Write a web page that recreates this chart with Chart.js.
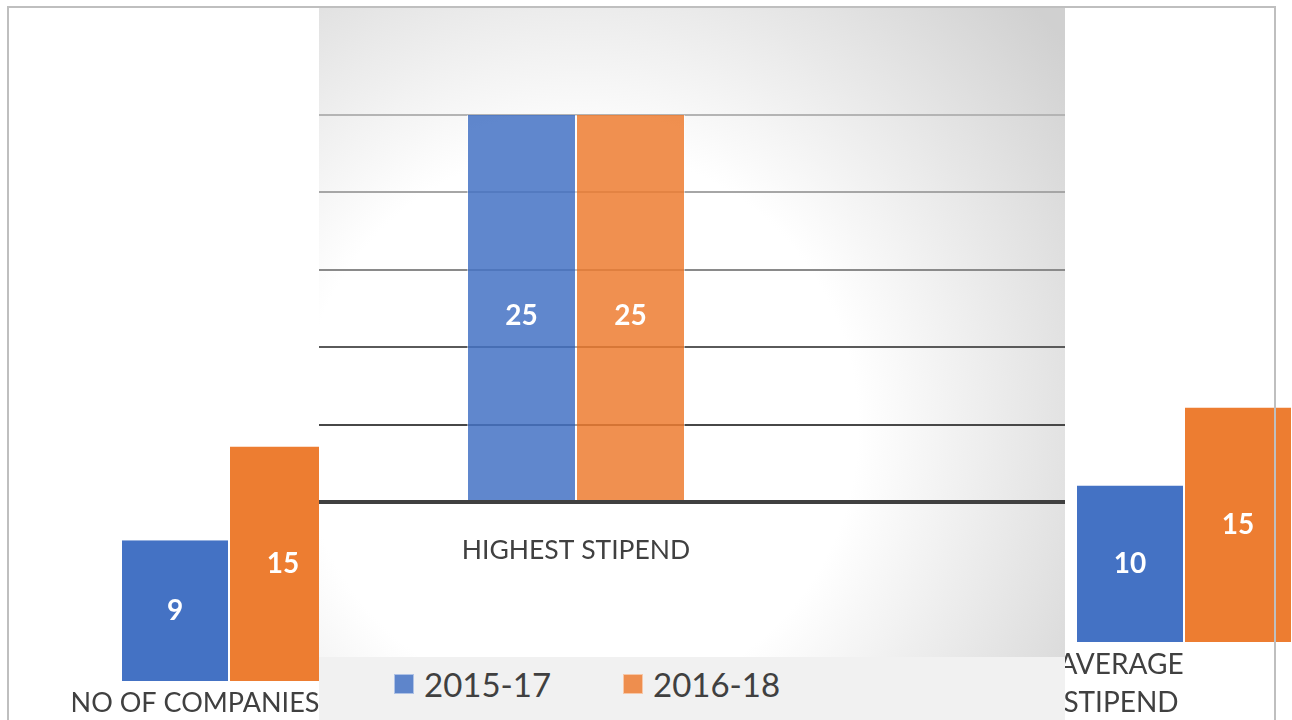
<!DOCTYPE html>
<html>
<head>
<meta charset="utf-8">
<script src="https://cdn.jsdelivr.net/npm/chart.js@4.4.1/dist/chart.umd.min.js"></script>
<style>
  html, body { margin: 0; padding: 0; width: 1292px; height: 720px; overflow: hidden; background: #fff; font-family: Lato, sans-serif; }
  .box { position: absolute; }
  #leftBox { left: 8px; top: 7px; z-index: 1; }
  #rightBox { left: 1065px; top: 7px; z-index: 1; }
  #midBox { left: 319px; top: 7px; z-index: 2; }
  #legend { left: 319px; top: 657px; width: 746px; height: 63px; background: #f1f1f1; z-index: 2; }
  #legend .items { position: absolute; left: 75px; top: 17px; display: flex; }
  #legend .item { width: 229px; height: 20px; display: flex; align-items: center; color: #404040; font-size: 33px; }
  #legend .swatch { width: 18px; height: 18px; margin-right: 10px; border: 1px solid rgba(255,255,255,0.5); }
  #frame { left: 7px; top: 6px; width: 1265px; height: 740px; border: 2px solid #bfbfbf; z-index: 3; pointer-events: none; }
</style>
</head>
<body>
<div class="box" id="leftBox"><canvas id="leftChart" width="442" height="713"></canvas></div>
<div class="box" id="rightBox"><canvas id="rightChart" width="238" height="713"></canvas></div>
<div class="box" id="midBox"><canvas id="midChart" width="746" height="650"></canvas></div>
<div class="box" id="legend"><div class="items" id="legendItems"></div></div>
<div class="box" id="frame"></div>

<script>
// Chart data
const categories = ['NO OF COMPANIES', 'HIGHEST STIPEND', ['AVERAGE', 'STIPEND']];
const seriesNames = ['2015-17', '2016-18'];
const values2015 = [9, 25, 10];
const values2016 = [15, 25, 15];
const yTicks = [0, 5, 10, 15, 20, 25];

const BLUE = '#4472c4';
const ORANGE = '#ed7d31';
const TEXT = '#404040';
const gridColors = ['#404040', '#474747', '#5a5a5a', '#8a8a8a', '#a6a6a6', '#b4b4b4'];

// White value labels in the middle of each bar
const valueLabels = {
    id: 'valueLabels',
    afterDatasetsDraw(chart, args, opts) {
        const ctx = chart.ctx;
        const dy = opts.dy || 0;
        ctx.save();
        ctx.fillStyle = '#ffffff';
        ctx.font = 'bold 28px Lato';
        ctx.textAlign = 'center';
        ctx.textBaseline = 'middle';
        chart.data.datasets.forEach((ds, i) => {
            chart.getDatasetMeta(i).data.forEach((bar, j) => {
                ctx.fillText(ds.data[j], bar.x, (bar.y + bar.base) / 2 + dy);
            });
        });
        ctx.restore();
    }
};

// Grey radial background of the middle panel
const panelBackground = {
    id: 'panelBackground',
    beforeDraw(chart) {
        const { ctx, width, height } = chart;
        const g = ctx.createRadialGradient(260, 420, 0, 260, 420, 620);
        g.addColorStop(0, '#ffffff');
        g.addColorStop(0.45, '#ffffff');
        g.addColorStop(1, '#d0d0d0');
        ctx.save();
        ctx.fillStyle = g;
        ctx.fillRect(0, 0, width, height);
        ctx.restore();
    }
};

// Build a one-category bar chart
function makeChart(canvasId, index, opts) {
    const ctx = document.getElementById(canvasId).getContext('2d');
    const colors = opts.colors;
    return new Chart(ctx, {
        type: 'bar',
        data: {
            labels: [categories[index]],
            datasets: [values2015, values2016].map((vals, i) => ({
                label: seriesNames[i],
                data: [vals[index]],
                backgroundColor: colors[i],
                borderColor: opts.borderColor,
                borderWidth: { left: 1, right: 1, top: 0, bottom: 0 },
                categoryPercentage: opts.categoryPercentage,
                barPercentage: 1
            }))
        },
        options: {
            responsive: false,
            animation: false,
            layout: { padding: { top: opts.padTop } },
            plugins: {
                legend: { display: false },
                tooltip: { enabled: false },
                valueLabels: { dy: opts.labelDy || 0 }
            },
            scales: {
                x: {
                    grid: { display: false, drawTicks: false },
                    border: { display: false },
                    ticks: {
                        color: TEXT,
                        font: { family: 'Lato', size: opts.fontSize, lineHeight: opts.lineHeight || 1.2 },
                        padding: opts.tickPadding,
                        labelOffset: opts.labelOffset || 0,
                        maxRotation: 0,
                        autoSkip: false
                    },
                    afterFit: s => { s.height = opts.axisHeight; }
                },
                y: opts.yScale
            }
        },
        plugins: opts.plugins || [valueLabels]
    });
}

makeChart('leftChart', 0, {
    colors: [BLUE, ORANGE],
    borderColor: '#ffffff',
    categoryPercentage: 216 / 442,
    padTop: 283,
    fontSize: 27,
    tickPadding: 6,
    labelOffset: -34,
    axisHeight: 39,
    yScale: { display: false, min: 0, max: 25 }
});

makeChart('rightChart', 2, {
    colors: [BLUE, ORANGE],
    borderColor: '#ffffff',
    categoryPercentage: 216 / 238,
    padTop: 244,
    fontSize: 28,
    lineHeight: 1.36,
    tickPadding: 4,
    labelOffset: -63,
    axisHeight: 78,
    yScale: { display: false, min: 0, max: 25 }
});

const midChart = makeChart('midChart', 1, {
    colors: ['rgba(68, 114, 196, 0.85)', 'rgba(237, 125, 49, 0.85)'],
    borderColor: 'rgba(255, 255, 255, 0.5)',
    categoryPercentage: 218 / 514,
    padTop: 108,
    fontSize: 26.5,
    tickPadding: 33,
    axisHeight: 155,
    labelDy: 8,
    plugins: [panelBackground, valueLabels],
    yScale: {
        position: 'right',
        min: yTicks[0],
        max: yTicks[yTicks.length - 1],
        afterBuildTicks: s => { s.ticks = yTicks.map(v => ({ value: v })); },
        ticks: { display: false },
        border: { display: false },
        grid: {
            tickLength: 232,
            color: c => gridColors[yTicks.indexOf(c.tick.value)] || '#999',
            lineWidth: c => c.tick.value === 0 ? 4 : 2
        }
    }
});

// HTML legend built from the middle chart
function buildLegend(chart) {
    const holder = document.getElementById('legendItems');
    const items = chart.options.plugins.legend.labels.generateLabels(chart);
    holder.innerHTML = items.map(it => `
        <div class="item">
            <span class="swatch" style="background:${it.fillStyle}"></span>
            <span>${it.text}</span>
        </div>`).join('');
}

buildLegend(midChart);
</script>
</body>
</html>
